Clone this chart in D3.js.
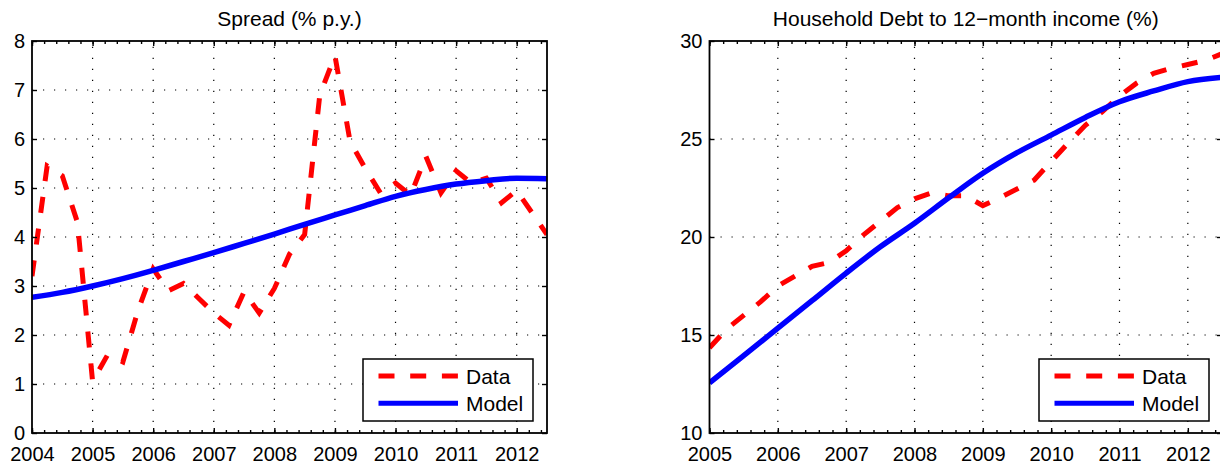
<!DOCTYPE html>
<html>
<head>
<meta charset="utf-8">
<script src="https://cdn.jsdelivr.net/npm/d3@7"></script>
<style>
  body { margin: 0; background: #fff; }
  svg { display: block; font-family: "Liberation Sans", Arial, sans-serif; }
</style>
</head>
<body>
<svg id="chart" width="1220" height="466"></svg>
<script>
// --- data ---
const spreadDates = [2004, 2004.25, 2004.5, 2004.75, 2005, 2005.25, 2005.5, 2005.75,
  2006, 2006.25, 2006.5, 2006.75, 2007, 2007.25, 2007.5, 2007.75,
  2008, 2008.25, 2008.5, 2008.75, 2009, 2009.25, 2009.5, 2009.75,
  2010, 2010.25, 2010.5, 2010.75, 2011, 2011.25, 2011.5, 2011.75,
  2012, 2012.25, 2012.5];
const spreadData = [3.2, 5.45, 5.25, 4.3, 1.05, 1.6, 1.45, 2.5,
  3.35, 2.9, 3.05, 2.75, 2.45, 2.2, 2.88, 2.45,
  2.95, 3.65, 4.05, 6.9, 7.7, 5.95, 5.4, 4.9,
  5.1, 4.85, 5.65, 4.9, 5.35, 5.1, 5.2, 4.7,
  4.95, 4.5, 4.05];
const spreadModelDates = [2004, 2004.5, 2005, 2005.5, 2006, 2006.5, 2007, 2007.5, 2008,
  2008.5, 2009, 2009.5, 2010, 2010.5, 2011, 2011.5, 2012, 2012.5];
const spreadModel = [2.77, 2.87, 3.0, 3.15, 3.32, 3.5, 3.68, 3.87, 4.06,
  4.26, 4.45, 4.64, 4.83, 4.97, 5.08, 5.15, 5.2, 5.19];

const debtDates = [2005, 2005.25, 2005.5, 2005.75, 2006, 2006.25, 2006.5, 2006.75,
  2007, 2007.25, 2007.5, 2007.75, 2008, 2008.25, 2008.5, 2008.75,
  2009, 2009.25, 2009.5, 2009.75, 2010, 2010.25, 2010.5, 2010.75,
  2011, 2011.25, 2011.5, 2011.75, 2012, 2012.25, 2012.5];
const debtData = [14.35, 15.3, 16.0, 16.7, 17.5, 18.0, 18.5, 18.7,
  19.3, 20.1, 20.8, 21.5, 21.95, 22.25, 22.1, 22.1,
  21.6, 22.0, 22.45, 22.9, 23.85, 24.8, 25.7, 26.4,
  27.2, 27.85, 28.35, 28.6, 28.8, 29.0, 29.35];
const debtModelDates = [2005, 2005.5, 2006, 2006.5, 2007, 2007.5, 2008, 2008.5,
  2009, 2009.5, 2010, 2010.5, 2011, 2011.5, 2012, 2012.5];
const debtModel = [12.56, 13.95, 15.35, 16.75, 18.16, 19.5, 20.7, 22.0,
  23.25, 24.3, 25.2, 26.1, 26.9, 27.45, 27.93, 28.15];

const spreadYears = [2004, 2005, 2006, 2007, 2008, 2009, 2010, 2011, 2012];
const spreadYTicks = [0, 1, 2, 3, 4, 5, 6, 7, 8];
const debtYears = [2005, 2006, 2007, 2008, 2009, 2010, 2011, 2012];
const debtYTicks = [10, 15, 20, 25, 30];
const legendLabels = ["Data", "Model"];

const TOP = 41;
const BOTTOM = 433;
const RED = "#ff0000";
const BLUE = "#0000ff";

const svg = d3.select("#chart");
svg.append("rect").attr("width", 1220).attr("height", 466).attr("fill", "#fff");

const minorTicks = (lo, hi) => {
  const out = [];
  for (let v = lo; v <= hi + 1e-9; v += 0.2) out.push(+v.toFixed(2));
  return out;
};

function drawPanel(cfg) {
  const g = svg.append("g");
  const x = d3.scaleLinear().domain(cfg.xDomain).range([cfg.left, cfg.right]);
  const y = d3.scaleLinear().domain(cfg.yDomain).range([BOTTOM, TOP]);

  const clipId = "clip-" + cfg.id;
  svg.append("clipPath").attr("id", clipId)
    .append("rect")
    .attr("x", cfg.left).attr("y", TOP)
    .attr("width", cfg.right - cfg.left).attr("height", BOTTOM - TOP);

  // dotted grid
  const grid = g.append("g")
    .attr("stroke", "#000")
    .attr("stroke-width", 1.2)
    .attr("stroke-dasharray", "1.2,9.8");
  grid.selectAll(".vg")
    .data(cfg.xTicks.filter(d => d > cfg.xDomain[0] && d < cfg.xDomain[1]))
    .join("line")
    .attr("x1", d => x(d)).attr("x2", d => x(d))
    .attr("y1", BOTTOM).attr("y2", TOP);
  grid.selectAll(".hg")
    .data(cfg.yTicks.filter(d => d > cfg.yDomain[0] && d < cfg.yDomain[1]))
    .join("line")
    .attr("y1", d => y(d)).attr("y2", d => y(d))
    .attr("x1", cfg.left).attr("x2", cfg.right);

  // series
  const plot = g.append("g").attr("clip-path", `url(#${clipId})`);
  const dataLine = d3.line().x(d => x(d[0])).y(d => y(d[1]));
  const modelLine = d3.line().x(d => x(d[0])).y(d => y(d[1])).curve(d3.curveMonotoneX);

  plot.append("path")
    .datum(d3.zip(cfg.dataX, cfg.dataY))
    .attr("fill", "none")
    .attr("stroke", RED)
    .attr("stroke-width", 5)
    .attr("stroke-dasharray", "16,16")
    .attr("d", dataLine);

  plot.append("path")
    .datum(d3.zip(cfg.modelX, cfg.modelY))
    .attr("fill", "none")
    .attr("stroke", BLUE)
    .attr("stroke-width", 5.5)
    .attr("d", modelLine);

  // axes, ticks inside on all four sides
  const axisStyle = sel => {
    sel.select(".domain").remove();
    sel.selectAll(".tick line").attr("stroke", "#000").attr("stroke-width", 1.4);
  };
  const minor = minorTicks(cfg.xDomain[0], cfg.xDomain[1]);

  g.append("g").attr("transform", `translate(0,${BOTTOM})`)
    .call(d3.axisBottom(x).tickValues(minor).tickSize(-3).tickFormat(""))
    .call(axisStyle);
  g.append("g").attr("transform", `translate(0,${TOP})`)
    .call(d3.axisTop(x).tickValues(minor).tickSize(-3).tickFormat(""))
    .call(axisStyle);

  g.append("g").attr("transform", `translate(0,${BOTTOM})`)
    .call(d3.axisBottom(x).tickValues(cfg.xTicks).tickSize(-5).tickPadding(14).tickFormat(d3.format("d")))
    .call(axisStyle)
    .call(s => s.selectAll("text").attr("fill", "#000").style("font-size", "20px"));
  g.append("g").attr("transform", `translate(0,${TOP})`)
    .call(d3.axisTop(x).tickValues(cfg.xTicks).tickSize(-5).tickFormat(""))
    .call(axisStyle);

  g.append("g").attr("transform", `translate(${cfg.left},0)`)
    .call(d3.axisLeft(y).tickValues(cfg.yTicks).tickSize(-5).tickPadding(7).tickFormat(d3.format("d")))
    .call(axisStyle)
    .call(s => s.selectAll("text").attr("fill", "#000").style("font-size", "20px"));
  g.append("g").attr("transform", `translate(${cfg.right},0)`)
    .call(d3.axisRight(y).tickValues(cfg.yTicks).tickSize(-5).tickFormat(""))
    .call(axisStyle);

  // box
  g.append("rect")
    .attr("x", cfg.left).attr("y", TOP)
    .attr("width", cfg.right - cfg.left).attr("height", BOTTOM - TOP)
    .attr("fill", "none").attr("stroke", "#000").attr("stroke-width", 1.8);

  // title
  g.append("text")
    .attr("x", (cfg.left + cfg.right) / 2)
    .attr("y", 26)
    .attr("text-anchor", "middle")
    .style("font-size", "21px")
    .text(cfg.title);

  // legend
  const lg = g.append("g").attr("transform", `translate(${cfg.legendX},359)`);
  lg.append("rect")
    .attr("width", 170).attr("height", 62)
    .attr("fill", "#fff").attr("stroke", "#000").attr("stroke-width", 1.5);
  const rows = lg.selectAll(".row").data(legendLabels).join("g")
    .attr("transform", (d, i) => `translate(0,${17 + i * 27.3})`);
  rows.append("line")
    .attr("x1", 15.5).attr("x2", 95)
    .attr("stroke", (d, i) => (i === 0 ? RED : BLUE))
    .attr("stroke-width", 5)
    .attr("stroke-dasharray", (d, i) => (i === 0 ? "16,15.7" : null));
  rows.append("text")
    .attr("x", 103)
    .attr("y", 8)
    .style("font-size", "21px")
    .text(d => d);
}

drawPanel({
  id: "spread",
  left: 32, right: 547,
  xDomain: [2004, 2012.5], yDomain: [0, 8],
  xTicks: spreadYears, yTicks: spreadYTicks,
  dataX: spreadDates, dataY: spreadData,
  modelX: spreadModelDates, modelY: spreadModel,
  title: "Spread (% p.y.)",
  legendX: 363
});

drawPanel({
  id: "debt",
  left: 709.5, right: 1222,
  xDomain: [2005, 2012.5], yDomain: [10, 30],
  xTicks: debtYears, yTicks: debtYTicks,
  dataX: debtDates, dataY: debtData,
  modelX: debtModelDates, modelY: debtModel,
  title: "Household Debt to 12\u2212month income (%)",
  legendX: 1039
});
</script>
</body>
</html>
